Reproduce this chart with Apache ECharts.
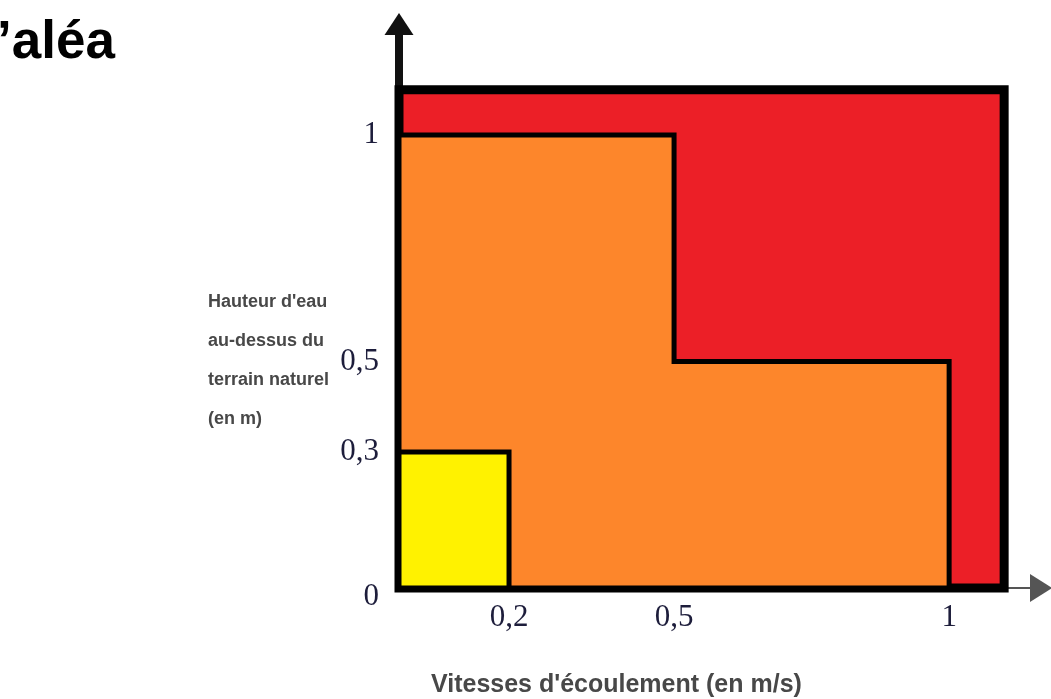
<!DOCTYPE html>
<html>
<head>
<meta charset="utf-8">
<script src="https://cdn.jsdelivr.net/npm/echarts@6/dist/echarts.min.js"></script>
<style>
    html, body { margin: 0; padding: 0; background: #fff; }
    #chart { width: 1051px; height: 699px; }
</style>
</head>
<body>
<div id="chart"></div>
<script>
// zones of the hazard grid, as polygon vertices [vitesse, hauteur]
var zoneNames = ['Fort', 'Moyen', 'Faible'];
var zoneFort = [[0, 0], [0, 1.1], [1.1, 1.1], [1.1, 0]];
var zoneMoyen = [[0, 0], [0, 1], [0.5, 1], [0.5, 0.5], [1, 0.5], [1, 0]];
var zoneFaible = [[0, 0], [0, 0.3], [0.2, 0.3], [0.2, 0]];
var xTicks = [0.2, 0.5, 1];
var yTicks = [0, 0.3, 0.5, 1];

var zones = [zoneFort, zoneMoyen, zoneFaible];
var zoneColors = ['#ec1f27', '#fd862b', '#fff200'];
var zoneBorders = [9, 5, 5];

function fmt(v) {
    return String(v).replace('.', ',');
}

var myChart = echarts.init(document.getElementById('chart'));
var option = {
    animation: false,
    title: [{
        text: '\u2019aléa',
        left: -3,
        top: 17,
        padding: 0,
        textStyle: { fontFamily: 'Liberation Sans', fontSize: 53, fontWeight: 'bold', color: '#000' }
    }, {
        text: "Hauteur d'eau\nau-dessus du\nterrain naturel\n(en m)",
        left: 208,
        top: 283,
        padding: 0,
        textStyle: { fontFamily: 'Liberation Sans', fontSize: 18, lineHeight: 39, fontWeight: 'bold', color: '#484848' }
    }, {
        text: "Vitesses d'écoulement (en m/s)",
        left: 431,
        top: 673,
        padding: 0,
        textStyle: { fontFamily: 'Liberation Sans', fontSize: 25, fontWeight: 'bold', color: '#484848' }
    }],
    grid: {
        left: 399,
        right: 10,
        top: 24,
        bottom: 111
    },
    xAxis: {
        type: 'value',
        min: 0,
        max: 1.167,
        splitLine: { show: false },
        axisTick: { show: false },
        axisLine: {
            show: true,
            symbol: ['none', 'triangle'],
            symbolSize: [28, 22],
            lineStyle: { color: '#555', width: 2 }
        },
        axisLabel: {
            customValues: xTicks,
            formatter: fmt,
            margin: 14,
            fontFamily: 'Liberation Serif',
            fontSize: 31,
            color: '#1d1d3b'
        }
    },
    yAxis: {
        type: 'value',
        min: 0,
        max: 1.245,
        splitLine: { show: false },
        axisTick: { show: false },
        axisLine: {
            show: true,
            symbol: ['none', 'triangle'],
            symbolSize: [29, 22],
            lineStyle: { color: '#111', width: 8 }
        },
        axisLabel: {
            customValues: yTicks,
            formatter: function (v) {
                return v === 0 ? '{z|0}' : fmt(v);
            },
            rich: {
                z: { padding: [18, 0, 0, 0], fontFamily: 'Liberation Serif', fontSize: 31, color: '#1d1d3b' }
            },
            margin: 20,
            fontFamily: 'Liberation Serif',
            fontSize: 31,
            color: '#1d1d3b'
        }
    },
    series: zones.map(function (z, i) {
        return {
            type: 'custom',
            name: zoneNames[i],
            data: z,
            clip: false,
            renderItem: function (params, api) {
                if (params.dataIndex !== 0) return;
                var pts = z.map(function (p) { return api.coord(p); });
                return {
                    type: 'polygon',
                    shape: { points: pts },
                    style: { fill: zoneColors[i], stroke: '#000', lineWidth: zoneBorders[i], lineJoin: 'miter' }
                };
            }
        };
    })
};
myChart.setOption(option);
</script>
</body>
</html>
